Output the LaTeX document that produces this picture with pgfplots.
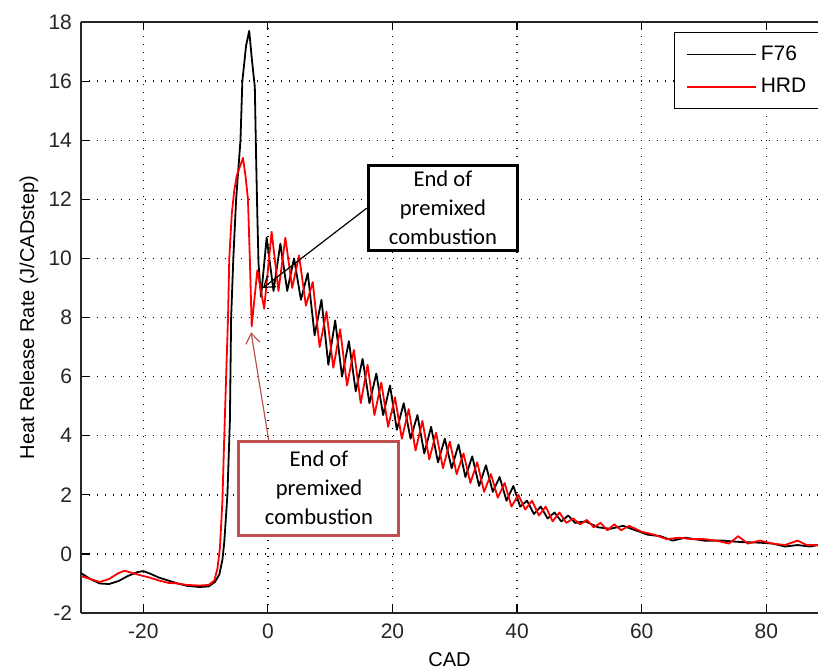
\documentclass[border=0pt]{standalone}
\usepackage{fontspec}
\setmainfont{Liberation Sans}
\newfontfamily\calibri{Carlito}
\usepackage{pgfplots}
\pgfplotsset{compat=1.18}
\usetikzlibrary{arrows.meta,calc}
\definecolor{boxred}{RGB}{192,80,77}
\definecolor{arrred}{RGB}{185,85,85}
\definecolor{hrd}{RGB}{255,0,0}

\begin{document}
\begin{tikzpicture}
\begin{axis}[
  name=ax,
  width=368.5pt, height=295.5pt, scale only axis,
  xmin=-30, xmax=88.3, ymin=-2, ymax=18,
  axis x line*=box, axis y line*=left,
  xtick={-20,0,20,40,60,80}, ytick={-2,0,2,4,6,8,10,12,14,16,18},
  tick align=inside, major tick length=4pt,
  tick style={black, line width=0.6pt},
  axis line style={line width=0.8pt, black!85},
  grid=major,
  grid style={black, line width=0.7pt, dash pattern=on 0.7pt off 3.3pt},
  /pgf/number format/assume math mode=true,
  ticklabel style={font=\fontsize{10.5}{12}\selectfont, text=black!85},
  xticklabel style={yshift=-2pt},
  yticklabel style={xshift=-1pt},
  xlabel={CAD}, ylabel={Heat Release Rate (J/CADstep)},
  label style={font=\fontsize{10.5}{12}\selectfont, text=black!85},
  every axis x label/.style={at={(axis description cs:0.5,-0.0795)}, anchor=center},
  every axis y label/.style={at={(axis description cs:-0.0706,0.5)}, rotate=90, anchor=center},
  legend style={at={(axis description cs:0.8046,0.983)}, anchor=north west,
    draw=black, line width=0.6pt, fill=white,
    font=\fontsize{10.5}{12}\selectfont,
    inner xsep=6pt, inner ysep=4.5pt, row sep=3.5pt, cells={anchor=west}},
  legend image code/.code={\draw[#1, line width=0.6pt] (0pt,0pt) -- (34.5pt,0pt);},
]
\addplot[black, line width=0.9pt, line join=round] coordinates {
(-30,-0.65) (-28.5,-0.85) (-27,-1.0) (-25.5,-1.02) (-24,-0.92) (-22.5,-0.75)
(-21,-0.62) (-20,-0.58) (-19,-0.66) (-17.5,-0.8) (-16,-0.9) (-14.5,-1.0)
(-13,-1.08) (-11,-1.12) (-9.5,-1.1) (-8.5,-0.95) (-7.8,-0.7) (-7.3,-0.2)
(-7.0,0.4) (-6.5,2.0) (-6.1,4.5) (-5.9,8.0) (-5.55,10) (-5.1,12) (-4.4,14)
(-4.1,16) (-3.5,17.2) (-3.0,17.7) (-2.6,16.8) (-2.1,15.8) (-1.9,13.5)
(-1.7,11.5) (-1.5,9.8) (-1.1,8.7)
(-0.2,10.7) (0.9,8.9) (2.0,10.5) (3.1,8.9) (4.2,10.0) (5.3,8.6) (6.4,9.5)
(7.5,7.4) (8.6,8.6) (9.7,6.4) (10.8,7.9) (11.9,6.0) (13.0,7.2) (14.1,5.5)
(15.2,6.6) (16.3,5.1) (17.4,6.1) (18.5,4.7) (19.6,5.7) (20.7,4.2) (21.8,5.1)
(22.9,3.9) (24.0,4.7) (25.1,3.4) (26.2,4.3) (27.3,3.1) (28.4,3.9) (29.5,2.9)
(30.6,3.7) (31.7,2.6) (32.8,3.3) (33.9,2.3) (35.0,3.0) (36.1,2.1) (37.2,2.6)
(38.3,1.8) (39.4,2.3) (40.5,1.6) (41.6,1.8) (42.7,1.35) (43.8,1.6) (44.9,1.2)
(46.0,1.4) (47.1,1.1) (48.2,1.3) (49.3,1.05) (51,1.1) (53,0.9) (55,0.85)
(57,0.95) (59,0.8) (61,0.65) (63,0.6) (65,0.45) (67,0.55) (70,0.45) (73,0.45)
(76,0.4) (79,0.38) (81,0.35) (83,0.25) (85,0.3) (87,0.25) (88.3,0.3)
};
\addlegendentry{F76}
\addplot[hrd, line width=0.9pt, line join=round] coordinates {
(-30,-0.75) (-28.5,-0.85) (-27,-0.95) (-25.5,-0.85) (-24,-0.65) (-23,-0.57)
(-22,-0.63) (-20.5,-0.72) (-19,-0.8) (-17.5,-0.9) (-16,-0.98) (-14.5,-1.0)
(-13,-1.05) (-11,-1.07) (-9.5,-1.05) (-8.6,-0.9) (-8.1,-0.5) (-7.7,0.2)
(-7.3,1.8) (-7.0,4.0) (-6.7,6.0) (-6.4,8.0) (-6.2,10) (-5.8,11.5) (-5.4,12.3)
(-5.0,12.8) (-4.5,13.1) (-4.0,13.4) (-3.6,12.8) (-3.2,12.0) (-2.9,10.0)
(-2.6,7.7) (-1.7,9.6) (-0.6,8.3)
(0.6,10.9) (1.7,8.9) (2.8,10.7) (3.9,9.0) (5.0,10.1) (6.1,8.4) (7.2,9.2)
(8.3,7.0) (9.4,8.2) (10.5,6.3) (11.6,7.6) (12.7,5.7) (13.8,6.9) (14.9,5.1)
(16.0,6.4) (17.1,4.7) (18.2,5.8) (19.3,4.3) (20.4,5.3) (21.5,3.9) (22.6,4.9)
(23.7,3.5) (24.8,4.5) (25.9,3.2) (27.0,4.1) (28.1,2.9) (29.2,3.8) (30.3,2.7)
(31.4,3.4) (32.5,2.4) (33.6,3.1) (34.7,2.1) (35.8,2.7) (36.9,1.9) (38.0,2.4)
(39.1,1.6) (40.2,2.0) (41.3,1.5) (42.4,1.8) (43.5,1.3) (44.6,1.6) (45.7,1.1)
(46.8,1.4) (47.9,1.05) (49.0,1.2) (50.1,1.0) (51.2,1.15) (52.3,0.9) (53.4,1.05)
(54.5,0.8) (55.6,1.0) (56.7,0.8) (58,0.95) (60,0.75) (62,0.65) (64,0.5)
(66,0.55) (68,0.5) (70,0.5) (72,0.45) (74,0.35) (75.5,0.6) (77,0.35) (79,0.45)
(81,0.35) (83,0.3) (85,0.45) (86.5,0.3) (88.3,0.3)
};
\addlegendentry{HRD}

\node[draw=black, line width=1.7pt, fill=white, align=center,
  minimum width=74.5pt, minimum height=42.5pt, inner sep=1pt,
  font=\calibri\fontsize{11.3}{14.5}\selectfont] (bb) at (axis cs:28.1,11.7)
  {End of\\premixed\\combustion};
\draw[black, line width=0.6pt, -{Straight Barb[length=5pt,width=7pt]}] (bb.west) -- (axis cs:-0.8,9.0);

\node[draw=boxred, line width=1.5pt, fill=white, align=center,
  minimum width=80pt, minimum height=47pt, inner sep=1pt,
  font=\calibri\fontsize{11.3}{14.5}\selectfont] (rb) at (axis cs:8.2,2.23)
  {End of\\premixed\\combustion};
\draw[arrred, line width=0.6pt, -{Straight Barb[length=5pt,width=7pt]}] (axis cs:0.16,3.8) -- (axis cs:-2.7,7.5);
\end{axis}
\pgfresetboundingbox
\useasboundingbox ($(ax.south west)+(-40.5pt,-29pt)$) rectangle ($(ax.north east)+(0pt,11pt)$);
\end{tikzpicture}
\end{document}
